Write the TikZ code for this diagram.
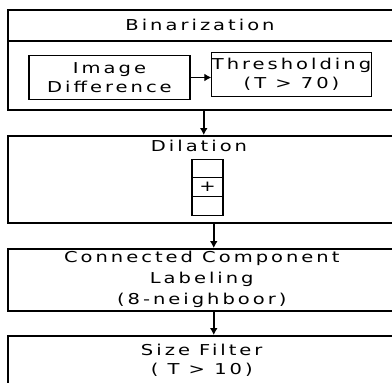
\documentclass[tikz,border=0pt]{standalone}
\usepackage{fontspec}
\setmainfont{DejaVu Sans}[FakeStretch=1.3,LetterSpace=20]
\usetikzlibrary{arrows.meta}
\begin{document}
\begin{tikzpicture}[x=1pt,y=-1pt,font=\fontsize{15pt}{19pt}\selectfont]
        \tikzstyle{every node} = [align=center, inner sep=0pt]
        \tikzstyle{stage} = [draw, line width=1.5pt, minimum width=388pt, anchor=north west]
        \tikzstyle{inbox} = [draw, line width=1.2pt]
        \tikzstyle{flow} = [line width=1.5pt, -{Latex[length=7pt,width=8pt]}]
        \useasboundingbox (0,0) rectangle (392,383);
        \clip (0,0) rectangle (392,383);

        \node[stage, minimum height=100pt](bin) at (7,9){};
        \node(bintitle) at (200,25){Binarization};
        \draw[line width=1.5pt] ([yshift=-32pt]bin.north west) -- ([yshift=-32pt]bin.north east);
        \node[inbox, minimum width=161pt, minimum height=44pt](diff) at (109.5,77.5){Image\\Difference};
        \node[inbox, minimum width=157pt, minimum height=44pt](thresh) at (291.5,74.5){Thresholding\\(T > 70)};

        \node[stage, minimum height=87pt](dil) at (7,135){};
        \node(diltitle) at (199,146){Dilation};
        \foreach \i/\t in {0/,1/+,2/}
            \node[inbox, minimum width=31pt, minimum height=18.7pt](cell\i) at (207.5,168.5+\i*18.7){\t};

        \node[stage, minimum height=62pt, font=\fontsize{15pt}{21pt}\selectfont](ccl) at (7,248){Connected Component\\Labeling\\(8-neighboor)};
        \node[stage, minimum height=50pt](size) at (7,335){Size Filter\\( T > 10)};

        \draw[flow] (diff.east) -- (diff.east -| thresh.west);
        \draw[flow] ([xshift=2pt]bin.south) -- ([xshift=2pt]dil.north);
        \draw[flow] ([xshift=12pt]dil.south) -- ([xshift=12pt]ccl.north);
        \draw[flow] ([xshift=12pt]ccl.south) -- ([xshift=12pt]size.north);
\end{tikzpicture}
\end{document}
